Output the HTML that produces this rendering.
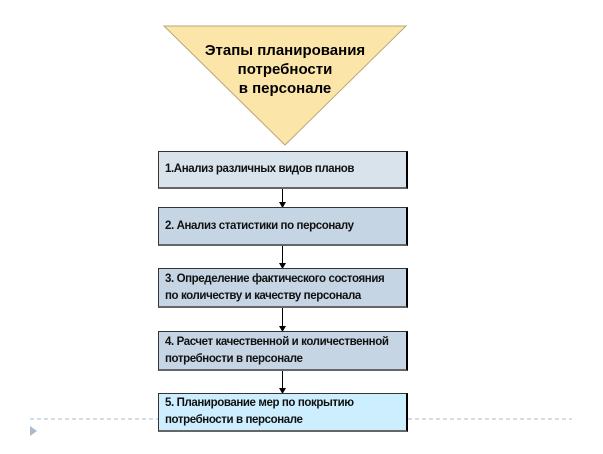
<!DOCTYPE html>
<html><head><meta charset="utf-8"><style>
body{margin:0;width:603px;height:454px;background:#fff;position:relative;overflow:hidden;font-family:"Liberation Sans","DejaVu Sans",sans-serif;}
.b{position:absolute;left:158px;width:250px;border:1px solid #333;border-right:2px solid #000;border-bottom:2px solid #666;box-sizing:border-box;font-size:11.5px;font-weight:bold;color:#111;padding-left:6px;display:flex;align-items:center;line-height:17px;letter-spacing:-0.4px;white-space:nowrap;}
svg{position:absolute;left:0;top:0}
</style></head><body>
<svg width="603" height="454">
<polygon points="164,26 406,26 285,145" fill="#fbe5a9" stroke="#b9a77a" stroke-width="1"/>
<text x="285" y="55" text-anchor="middle" font-family="Liberation Sans,sans-serif" font-size="15" font-weight="bold">Этапы планирования</text>
<text x="285" y="74" text-anchor="middle" font-family="Liberation Sans,sans-serif" font-size="15" font-weight="bold">потребности</text>
<text x="285" y="93" text-anchor="middle" font-family="Liberation Sans,sans-serif" font-size="15" font-weight="bold">в персонале</text>
<line x1="30" y1="419" x2="572" y2="419" stroke="#a9bccd" stroke-width="1" stroke-dasharray="4,3"/>
<polygon points="30,426 37,431 30,436" fill="#a9bccd"/>
<g stroke="#000" stroke-width="1">
<line x1="282.5" y1="188" x2="282.5" y2="204"/>
<line x1="282.5" y1="245" x2="282.5" y2="265"/>
<line x1="282.5" y1="307" x2="282.5" y2="328"/>
<line x1="282.5" y1="370" x2="282.5" y2="390"/>
</g>
<g fill="#000">
<polygon points="279,202 286,202 282.5,208"/>
<polygon points="279,263 286,263 282.5,269"/>
<polygon points="279,326 286,326 282.5,332"/>
<polygon points="279,388 286,388 282.5,394"/>
</g>
</svg>
<div class="b" style="top:151px;height:38px;background:#d9e3ec">1.Анализ различных видов планов</div>
<div class="b" style="top:207px;height:39px;background:#c5d5e3">2. Анализ статистики по персоналу</div>
<div class="b" style="top:268px;height:40px;background:#c5d5e3">3. Определение фактического состояния<br>по количеству и качеству персонала</div>
<div class="b" style="top:331px;height:40px;background:#c5d5e3">4. Расчет качественной и количественной<br>потребности в персонале</div>
<div class="b" style="top:393px;height:39px;background:#cdeeff">5. Планирование мер по покрытию<br>потребности в персонале</div>
</body></html>
